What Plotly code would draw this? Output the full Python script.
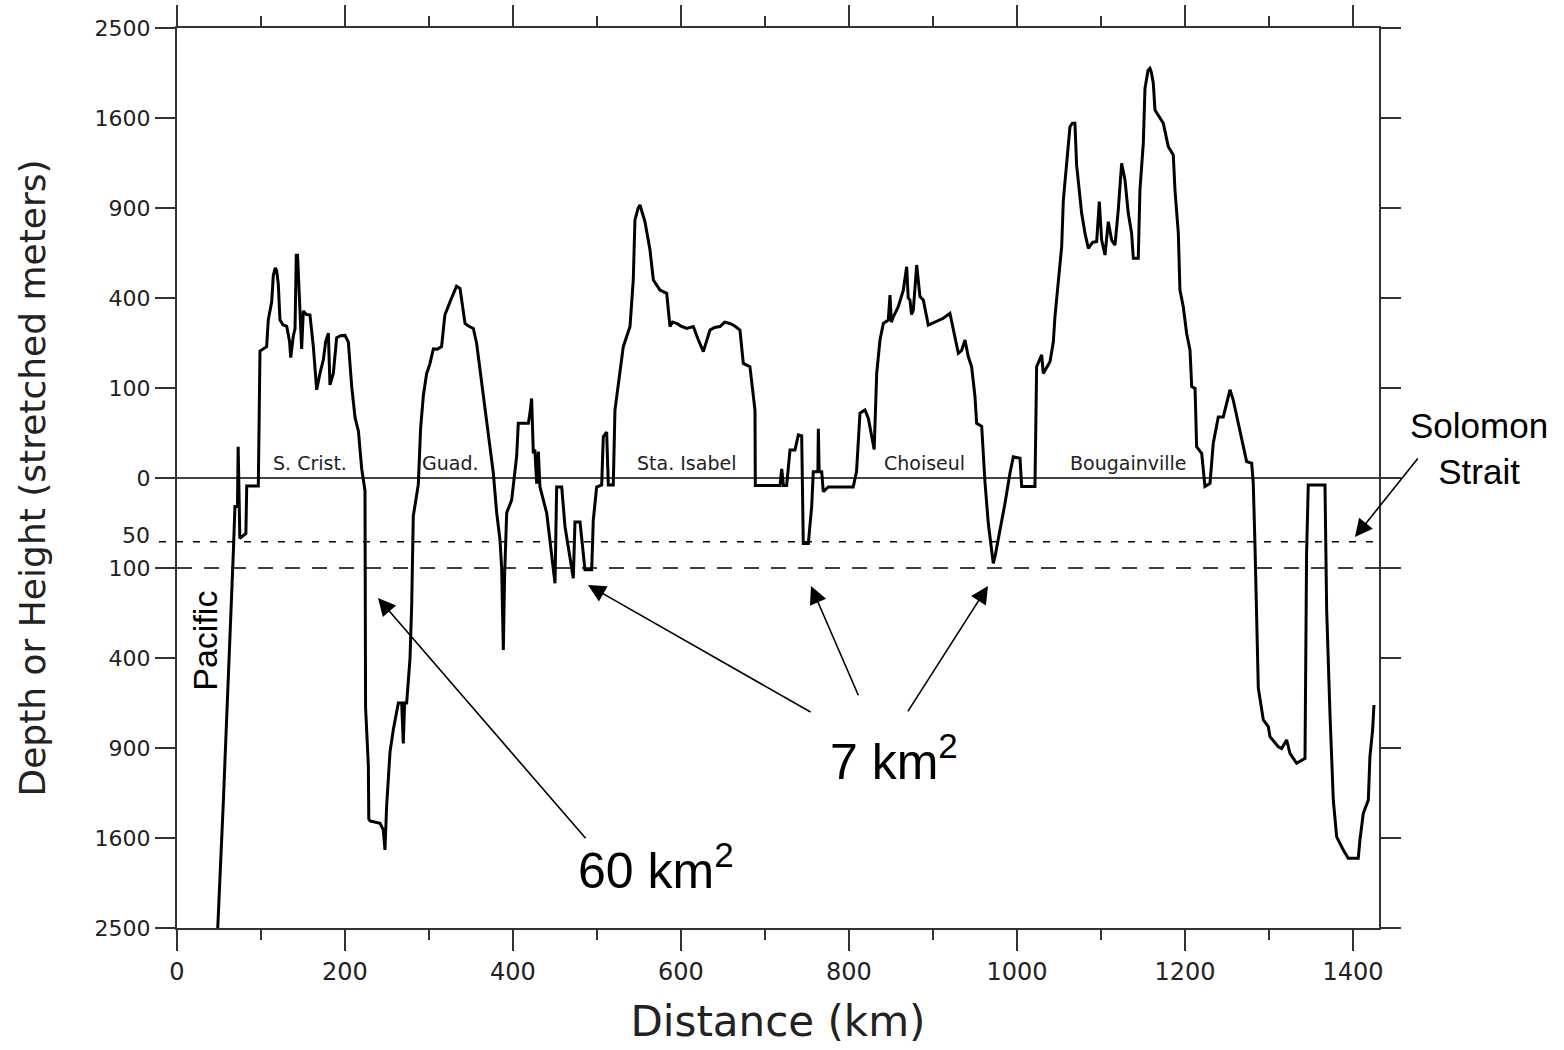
import numpy as np
import plotly.graph_objects as go

# ---- data: distance along the island chain (km) and height (+) / depth (-) in metres ----
distance_km = [
    48.5, 51.2, 55.2, 57.1, 61.1, 63.1, 65.1, 67.1, 69.0, 72.0, 72.8, 73.8, 74.8, 82.0, 83.0, 96.8,
    97.5, 98.8, 106.7, 108.7, 112.7, 114.7, 117.0, 118.7, 120.6, 122.6, 126.0, 130.6, 134.0, 135.4,
    138.5, 140.5, 142.0, 143.5, 148.4, 150.4, 154.0, 158.3, 162.3, 166.3, 170.2, 174.2, 177.0, 180.2,
    182.1, 186.1, 190.1, 195.0, 200.0, 204.0, 208.0, 212.0, 216.0, 219.9, 223.8, 224.5, 227.8, 228.3,
    229.8, 241.7, 245.6, 247.6, 249.6, 253.6, 257.5, 263.5, 267.5, 269.4, 271.0, 273.4, 277.4, 279.4,
    281.3, 284.0, 287.3, 290.0, 293.3, 297.2, 301.0, 305.2, 310.0, 315.0, 318.9, 324.9, 329.0, 332.8,
    336.9, 342.9, 347.0, 352.8, 356.7, 360.7, 364.7, 370.6, 376.6, 380.6, 384.5, 386.5, 388.5, 390.0,
    392.5, 398.4, 404.4, 406.3, 418.3, 420.2, 421.5, 422.2, 424.2, 426.0, 428.2, 430.2, 432.1, 440.1,
    450.0, 452.0, 458.0, 461.9, 471.8, 473.8, 479.8, 485.7, 493.7, 495.6, 499.6, 505.6, 507.5, 511.5,
    513.5, 519.4, 521.4, 527.4, 531.3, 539.3, 543.2, 545.2, 549.0, 551.2, 553.0, 557.1, 563.1, 567.1,
    575.0, 583.0, 586.9, 590.0, 594.9, 600.0, 606.7, 614.7, 620.0, 626.6, 634.5, 640.0, 646.4, 652.0,
    658.3, 664.0, 670.2, 674.2, 682.1, 688.1, 688.5, 717.9, 719.9, 722.0, 725.8, 729.8, 735.7, 739.7,
    743.7, 744.8, 745.6, 751.6, 755.6, 757.5, 763.0, 763.5, 764.5, 767.5, 769.4, 775.4, 805.0, 809.0,
    813.1, 819.0, 823.0, 830.0, 833.0, 836.9, 840.9, 846.8, 848.8, 850.5, 852.8, 858.7, 864.7, 868.7,
    870.5, 872.6, 874.5, 876.6, 880.6, 884.5, 888.5, 894.4, 903.0, 912.3, 920.2, 924.2, 930.2, 934.0,
    938.1, 942.0, 946.0, 950.0, 952.0, 958.0, 961.9, 965.8, 969.0, 971.8, 974.0, 977.7, 985.7, 991.7,
    995.6, 1003.6, 1005.6, 1021.4, 1023.4, 1029.4, 1031.3, 1039.3, 1043.3, 1045.2, 1049.2, 1053.2,
    1055.2, 1059.1, 1063.1, 1066.0, 1069.0, 1071.0, 1075.0, 1077.0, 1081.0, 1085.0, 1090.0, 1094.9,
    1098.0, 1100.8, 1104.8, 1108.7, 1112.7, 1116.7, 1120.6, 1124.6, 1128.6, 1132.5, 1136.5, 1138.5,
    1144.4, 1146.4, 1150.4, 1152.4, 1156.0, 1158.3, 1160.0, 1162.3, 1164.3, 1170.0, 1174.2, 1180.2,
    1186.1, 1188.1, 1192.1, 1194.0, 1198.0, 1202.0, 1206.0, 1208.0, 1212.0, 1213.9, 1219.9, 1223.8,
    1229.8, 1233.7, 1239.7, 1245.6, 1250.0, 1253.6, 1257.5, 1263.5, 1269.4, 1273.4, 1279.4, 1281.3,
    1283.3, 1285.3, 1287.3, 1293.3, 1299.2, 1301.2, 1311.1, 1315.1, 1321.0, 1325.0, 1333.0, 1342.9,
    1344.1, 1344.8, 1346.8, 1366.7, 1368.7, 1370.6, 1372.6, 1376.6, 1380.6, 1388.5, 1394.4, 1406.3,
    1408.3, 1412.3, 1418.3, 1420.2, 1423.4, 1425.0,
]
height_m = [
    -2500, -2007, -1288, -988, -507, -345, -213, -67, -10, -10, 12, -8, -45, -38, -0.8, -0.8,
    45, 199, 213, 309, 382, 507, 545, 530, 464, 309, 290, 284, 230, 179,
    250, 275, 613, 613, 206, 345, 330, 328, 213, 96, 135, 172, 230, 259,
    107, 135, 243, 250, 251, 228, 103, 45, 27, 1, -2, -650, -1020, -1434,
    -1452, -1472, -1529, -1708, -1324, -926, -782, -625, -625, -870, -625, -625, -402, -199,
    -18, -6, -0.5, 30, 84, 135, 160, 206, 205, 213, 328, 382, 420, 454,
    444, 295, 285, 276, 224, 144, 82, 21, 0.3, -15, -47, -100, -365, -120,
    -15, -6, 6, 37, 37, 52, 78, 78, 7.5, 10, -0.4, 8.6, -1, -15,
    -137, -1, -1, -29, -124, -24, -24, -104, -104, -22, -1, -0.6, 21, 26,
    -0.6, -0.6, 57, 135, 213, 283, 484, 822, 900, 920, 880, 811, 642, 484,
    436, 421, 283, 300, 295, 285, 276, 283, 240, 197, 270, 280, 283, 300,
    295, 285, 270, 162, 153, 57, -0.7, -0.7, 1, -0.7, -0.7, 9.7, 9.7, 23,
    22, -1, -53, -53, -10, 0.5, 0.5, 30, 0.5, 0.5, -2.3, -1, -1, 0.5,
    52, 57, 44, 10, 135, 235, 295, 308, 413, 300, 321, 362, 436, 551,
    400, 391, 330, 348, 560, 406, 391, 289, 300, 315, 335, 276, 192, 200,
    235, 182, 153, 82, 37, 33, -0.2, -25, -60, -90, -75, -47, -8, 0.3,
    5.6, 4.8, -0.9, -0.9, 153, 187, 135, 167, 229, 321, 468, 660,
    954, 1196, 1523, 1554, 1554, 1210, 1000, 865, 739, 651, 685, 690,
    943, 699, 614, 811, 699, 670, 887, 1222, 1096, 865, 739, 596,
    596, 1024, 1383, 1875, 2050, 2072, 2030, 1924, 1672, 1600, 1553, 1355,
    1288, 1024, 739, 436, 362, 258, 202, 103, 99, 12, 7.5, -0.9,
    -0.35, 15, 46, 46, 70, 96, 75, 37, 12, 3.3, 2.7, -0.35,
    -53, -194, -545, -723, -763, -826, -892, -903, -847, -936, -1005, -970,
    -394, -70, -0.6, -0.6, -215, -417, -683, -1282, -1590, -1708, -1786, -1786,
    -1618, -1389, -1280, -959, -784, -636,
]

# axis ticks (the vertical axis is a square-root "stretched" scale)
x_tick_vals = [0, 200, 400, 600, 800, 1000, 1200, 1400]
y_tick_metres = [-2500, -1600, -900, -400, -100, 0, 100, 400, 900, 1600, 2500]
y_tick_labels = ["2500", "1600", "900", "400", "100", "0", "100", "400", "900", "1600", "2500"]
reference_depths = [-50, -100]

island_names = ["S. Crist.", "Guad.", "Sta. Isabel", "Choiseul", "Bougainville"]
island_km = [158, 326, 606, 890, 1133]


def stretch(v):
    v = np.asarray(v, dtype=float)
    return np.sign(v) * np.sqrt(np.abs(v))


ys = stretch(height_m)
y_ticks = stretch(y_tick_metres)
ref50, ref100 = stretch(reference_depths)

AX = "#333333"
TICKFONT_Y = dict(family="DejaVu Sans", size=22, color="#222")
TICKFONT_X = dict(family="DejaVu Sans", size=24, color="#222")
BIG = dict(family="Liberation Sans, Arial, sans-serif", color="black")

fig = go.Figure()
fig.add_trace(go.Scatter(x=distance_km, y=ys, mode="lines",
                         line=dict(color="black", width=3), showlegend=False,
                         hoverinfo="skip"))

shapes = [
    dict(type="line", xref="paper", yref="y", x0=-0.015, x1=1, y0=float(ref50), y1=float(ref50),
         line=dict(color="black", width=1.5, dash="7px,10px"), layer="below"),
    dict(type="line", xref="paper", yref="y", x0=0, x1=1, y0=float(ref100), y1=float(ref100),
         line=dict(color="black", width=1.5, dash="15px,12px"), layer="below"),
]

annotations = []
for name, km in zip(island_names, island_km):
    annotations.append(dict(x=km, y=0, xref="x", yref="y", text=name, showarrow=False,
                            xanchor="center", yanchor="bottom", yshift=2,
                            font=dict(family="DejaVu Sans", size=19, color="#222")))

# extra "50" label on the depth side
annotations.append(dict(x=-0.021, y=float(ref50), xref="paper", yref="y", text="50", showarrow=False,
                        xanchor="right", yanchor="middle", yshift=6, font=TICKFONT_Y))

# big annotations
annotations += [
    dict(x=570, y=-43.2, xref="x", yref="y", text="60 km<sup>2</sup>", showarrow=False,
         xanchor="center", yanchor="middle", font=dict(size=50, **BIG)),
    dict(x=853, y=-31.1, xref="x", yref="y", text="7 km<sup>2</sup>", showarrow=False,
         xanchor="center", yanchor="middle", font=dict(size=50, **BIG)),
    dict(x=1.083, y=0.533, xref="paper", yref="paper", text="Solomon<br>Strait", showarrow=False,
         xanchor="center", yanchor="middle", font=dict(size=35, **BIG)),
    dict(x=0.0233, y=float(stretch(-327)), xref="paper", yref="y", text="Pacific", showarrow=False,
         xanchor="center", yanchor="middle", textangle=-90, font=dict(size=34, **BIG)),
]

arrows = [
    # (head_km, head_s, tail_km, tail_s)
    (239.3, -13.33, 488.0, -40.2),
    (489.3, -11.9, 756.0, -26.1),
    (754.8, -12.0, 811.9, -24.3),
    (965.5, -12.0, 869.0, -26.1),
    (1402.4, -6.56, 1478.6, 2.33),
]
for hx, hy, tx, ty in arrows:
    annotations.append(dict(x=hx, y=hy, ax=tx, ay=ty, xref="x", yref="y", axref="x", ayref="y",
                            text="", showarrow=True, arrowhead=2, arrowsize=2.2, arrowwidth=1.6,
                            arrowcolor="black", standoff=0))

fig.update_layout(
    width=1564, height=1050, autosize=False,
    margin=dict(l=177, r=185, t=28, b=122),
    paper_bgcolor="white", plot_bgcolor="white",
    shapes=shapes, annotations=annotations, showlegend=False,
)
fig.update_xaxes(
    range=[0, 1431], tickvals=x_tick_vals, ticks="outside", ticklen=21, tickwidth=2, tickcolor=AX,
    showline=True, linewidth=2, linecolor=AX, mirror="ticks", showgrid=False, zeroline=False,
    automargin=False, tickfont=TICKFONT_X,
    minor=dict(dtick=100, tick0=0, ticks="outside", ticklen=10, tickwidth=2, tickcolor=AX, showgrid=False),
    title=dict(text="Distance (km)", font=dict(family="DejaVu Sans", size=42, color="#222"), standoff=22),
)
fig.update_yaxes(
    range=[-50, 50], tickvals=list(y_ticks), ticktext=y_tick_labels, ticks="outside", ticklen=20,
    tickwidth=2, tickcolor=AX, showline=True, linewidth=2, linecolor=AX, mirror="ticks",
    showgrid=False, zeroline=True, zerolinecolor="#444", zerolinewidth=1.5,
    automargin=False, tickfont=TICKFONT_Y,
    title=dict(text="Depth or Height (stretched meters)", font=dict(family="DejaVu Sans", size=36, color="#222"),
               standoff=38),
)

fig.write_html("out.html")
